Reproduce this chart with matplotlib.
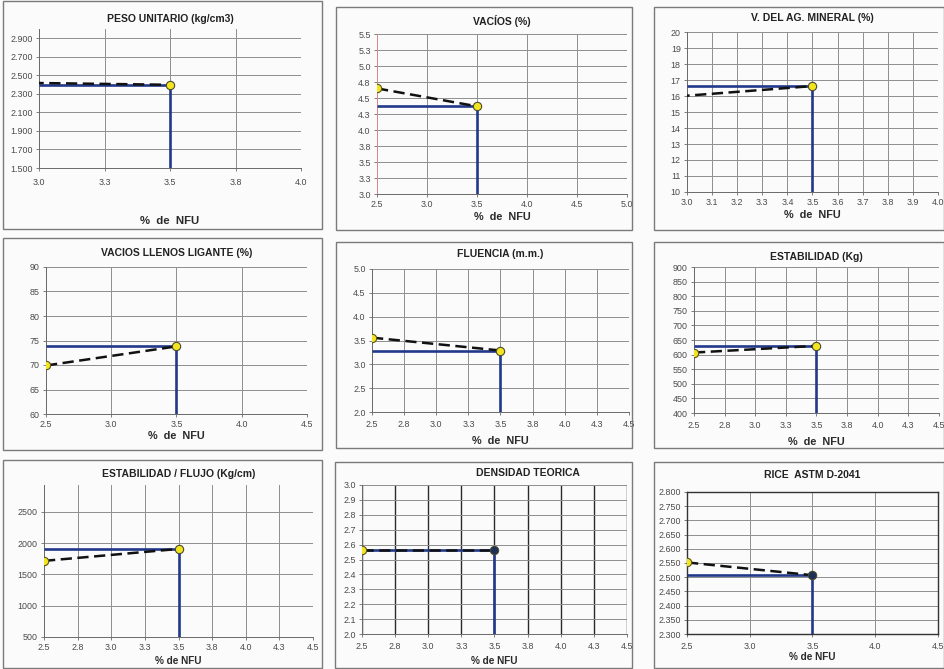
import matplotlib
matplotlib.use("Agg")
import matplotlib.pyplot as plt
from matplotlib.patches import Rectangle
import numpy as np

plt.rcParams['font.family'] = ['Liberation Sans', 'DejaVu Sans']

# ---------------- data ----------------
nfu = [2.5, 3.5]                  # % de NFU of the two series points
optimo = 3.5                      # chosen % de NFU

peso_unitario = [2.436, 2.398]
vacios = [4.65, 4.37]
vam = [15.42, 16.62]
vll = [69.9, 73.8]
fluencia = [3.56, 3.29]
estabilidad = [607, 630]
estab_flujo = [1717, 1908]
densidad = [2.565, 2.565]
rice = [2.552, 2.507]

titles = ["PESO UNITARIO (kg/cm3)", "VACÍOS (%)", "V. DEL AG. MINERAL (%)",
          "VACIOS LLENOS LIGANTE (%)", "FLUENCIA (m.m.)", "ESTABILIDAD (Kg)",
          "ESTABILIDAD / FLUJO (Kg/cm)", "DENSIDAD TEORICA", "RICE  ASTM D-2041"]

xt_q = [2.5, 2.75, 3.0, 3.25, 3.5, 3.75, 4.0, 4.25, 4.5]
xl_q = ['2.5', '2.8', '3.0', '3.3', '3.5', '3.8', '4.0', '4.3', '4.5']
xt_h = [2.5, 3.0, 3.5, 4.0, 4.5]
xl_h = ['2.5', '3.0', '3.5', '4.0', '4.5']
xt_1 = [3.0, 3.25, 3.5, 3.75, 4.0]
xl_1 = ['3.0', '3.3', '3.5', '3.8', '4.0']
xt_2 = [2.5, 3.0, 3.5, 4.0, 4.5, 5.0]
xl_2 = ['2.5', '3.0', '3.5', '4.0', '4.5', '5.0']
xt_3 = [3.0, 3.1, 3.2, 3.3, 3.4, 3.5, 3.6, 3.7, 3.8, 3.9, 4.0]
xl_3 = ['3.0', '3.1', '3.2', '3.3', '3.4', '3.5', '3.6', '3.7', '3.8', '3.9', '4.0']

yt_1 = [1.5, 1.7, 1.9, 2.1, 2.3, 2.5, 2.7, 2.9]
yl_1 = ['1.500', '1.700', '1.900', '2.100', '2.300', '2.500', '2.700', '2.900']
yt_2 = [3.0, 3.25, 3.5, 3.75, 4.0, 4.25, 4.5, 4.75, 5.0, 5.25, 5.5]
yl_2 = ['3.0', '3.3', '3.5', '3.8', '4.0', '4.3', '4.5', '4.8', '5.0', '5.3', '5.5']
yt_3 = [10, 11, 12, 13, 14, 15, 16, 17, 18, 19, 20]
yt_4 = [60, 65, 70, 75, 80, 85, 90]
yt_5 = [2.0, 2.5, 3.0, 3.5, 4.0, 4.5, 5.0]
yl_5 = ['2.0', '2.5', '3.0', '3.5', '4.0', '4.5', '5.0']
yt_6 = [400, 450, 500, 550, 600, 650, 700, 750, 800, 850, 900]
yt_7 = [500, 1000, 1500, 2000, 2500]
yt_8 = [2.0, 2.1, 2.2, 2.3, 2.4, 2.5, 2.6, 2.7, 2.8, 2.9, 3.0]
yl_8 = ['2.0', '2.1', '2.2', '2.3', '2.4', '2.5', '2.6', '2.7', '2.8', '2.9', '3.0']
yt_9 = [2.30, 2.35, 2.40, 2.45, 2.50, 2.55, 2.60, 2.65, 2.70, 2.75, 2.80]
yl_9 = ['2.300', '2.350', '2.400', '2.450', '2.500', '2.550', '2.600', '2.650', '2.700', '2.750', '2.800']

W, H = 945, 669
fig = plt.figure(figsize=(W / 100, H / 100), dpi=100)
fig.patch.set_facecolor('#fbfbfb')

def fx(x):
    return x / W

def fy(y):
    return 1 - y / H

# layout (pixels): box, plot area, title y, title x, xlabel y
panels = [
    dict(series=peso_unitario, xl=(3.0, 4.0), xt=xt_1, xtl=xl_1, yl=(1.5, 3.0), yt=yt_1, ytl=yl_1,
         box=(3, 1, 322, 229), plot=(39, 29, 301, 168), ty=19, xly=221.5, xlfs=8.2, xpad=5),
    dict(series=vacios, xl=(2.5, 5.0), xt=xt_2, xtl=xl_2, yl=(3.0, 5.5), yt=yt_2, ytl=yl_2,
         box=(336, 7, 632, 230), plot=(377, 34, 627, 194), ty=21, xly=217, leftred=True, xpad=1.5),
    dict(series=vam, xl=(3.0, 4.0), xt=xt_3, xtl=xl_3, yl=(10, 20), yt=yt_3, ytl=[str(v) for v in yt_3],
         box=(654, 7, 944, 230), plot=(687, 32, 938, 192), ty=18, xly=215.5, xpad=1.5),
    dict(series=vll, xl=(2.5, 4.5), xt=xt_h, xtl=xl_h, yl=(60, 90), yt=yt_4, ytl=[str(v) for v in yt_4],
         box=(3, 238, 322, 450), plot=(46, 267, 307, 414), ty=253, xly=436, xpad=1.5),
    dict(series=fluencia, xl=(2.5, 4.5), xt=xt_q, xtl=xl_q, yl=(2.0, 5.0), yt=yt_5, ytl=yl_5,
         box=(336, 242, 632, 448), plot=(372, 269, 629, 412), ty=254, xly=441.5),
    dict(series=estabilidad, xl=(2.5, 4.5), xt=xt_q, xtl=xl_q, yl=(400, 900), yt=yt_6, ytl=[str(v) for v in yt_6],
         box=(654, 242, 944, 448), plot=(694, 267, 939, 413), ty=257, xly=442),
    dict(series=estab_flujo, xl=(2.5, 4.5), xt=xt_q, xtl=xl_q, yl=(500, 2930), yt=yt_7, ytl=[str(v) for v in yt_7],
         box=(3, 460, 322, 668), plot=(44, 485, 313, 637), ty=474, xly=661, xlfs=7.2, xpad=1.5),
    dict(series=densidad, xl=(2.5, 4.5), xt=xt_q, xtl=xl_q, yl=(2.0, 3.0), yt=yt_8, ytl=yl_8,
         box=(335, 462, 632, 668), plot=(362, 485, 627, 634), ty=473, tx=528, xly=661, xlfs=7.2,
         darkv=True, darkright=True),
    dict(series=rice, xl=(2.5, 4.5), xt=xt_h, xtl=xl_h, yl=(2.3, 2.8), yt=yt_9, ytl=yl_9,
         box=(654, 462, 944, 668), plot=(687, 492, 938, 634), ty=475, xly=657, xlfs=7.2,
         frame=True, darkright=True),
]

blue = '#22398a'
grid_c = '#8e8e8e'

for i, p in enumerate(panels):
    bx0, by0, bx1, by1 = p['box']
    fig.patches.append(Rectangle((fx(bx0), fy(by1)), fx(bx1 - bx0), (by1 - by0) / H,
                                 transform=fig.transFigure, fill=False,
                                 edgecolor='#7a7a7a', lw=1.0))
    px0, py0, px1, py1 = p['plot']
    ax = fig.add_axes([fx(px0), fy(py1), fx(px1 - px0), (py1 - py0) / H])
    ax.set_facecolor('none')
    ax.set_xlim(*p['xl'])
    ax.set_ylim(*p['yl'])
    ax.set_xticks(p['xt'])
    ax.set_xticklabels(p['xtl'])
    ax.set_yticks(p['yt'])
    ax.set_yticklabels(p['ytl'])
    ax.tick_params(labelsize=6.4, labelcolor='#4a4a4a', colors='#6a6a6a',
                   length=2.5, width=0.6, pad=2)
    ax.tick_params(axis='x', pad=p.get('xpad', 3))

    # gridlines
    for xv in p['xt']:
        if p.get('darkv'):
            ax.axvline(xv, color='#2a2a2a', lw=1.0, zorder=1)
        else:
            ax.axvline(xv, color=grid_c, lw=0.7, zorder=1)
    for yv in p['yt']:
        ax.axhline(yv, color=grid_c, lw=0.7, zorder=1)

    for s in ['top', 'right']:
        ax.spines[s].set_visible(bool(p.get('frame')))
    for s in ax.spines.values():
        s.set_color('#6a6a6a')
        s.set_linewidth(0.7)
    if p.get('frame'):
        for s in ax.spines.values():
            s.set_color('#333333')
            s.set_linewidth(1.0)
    if p.get('leftred'):
        ax.spines['left'].set_color('#d98a8a')

    ser = p['series']
    opt_val = ser[1]
    # optimum indicator lines
    ax.plot([p['xl'][0], optimo], [opt_val, opt_val], color=blue, lw=1.9, zorder=3,
            solid_capstyle='butt')
    ax.plot([optimo, optimo], [p['yl'][0], opt_val], color=blue, lw=1.9, zorder=3,
            solid_capstyle='butt')
    # trend (dashed)
    ax.plot(nfu, ser, color='#111111', lw=1.8, ls=(0, (4.5, 2.2)), zorder=4)
    # markers
    right_col = '#1d3057' if p.get('darkright') else '#f2e41e'
    ax.plot(nfu[0], ser[0], 'o', ms=6, mfc='#f2e41e', mec='#5a5520', mew=0.8, zorder=5)
    ax.plot(nfu[1], ser[1], 'o', ms=6, mfc=right_col, mec='#4a4a30', mew=0.8, zorder=5)

    # title and x label
    tx = p.get('tx', (px0 + px1) / 2)
    fig.text(fx(tx), fy(p['ty']), titles[i], ha='center', va='center',
             fontsize=7.5, fontweight='bold', color='#222222')
    fig.text(fx((px0 + px1) / 2), fy(p['xly']), '%  de  NFU' if i < 6 else '% de NFU',
             ha='center', va='center', fontsize=p.get('xlfs', 7.8), fontweight='bold',
             color='#2a2a2a')

fig.savefig('out.png', dpi=100, facecolor=fig.get_facecolor())
